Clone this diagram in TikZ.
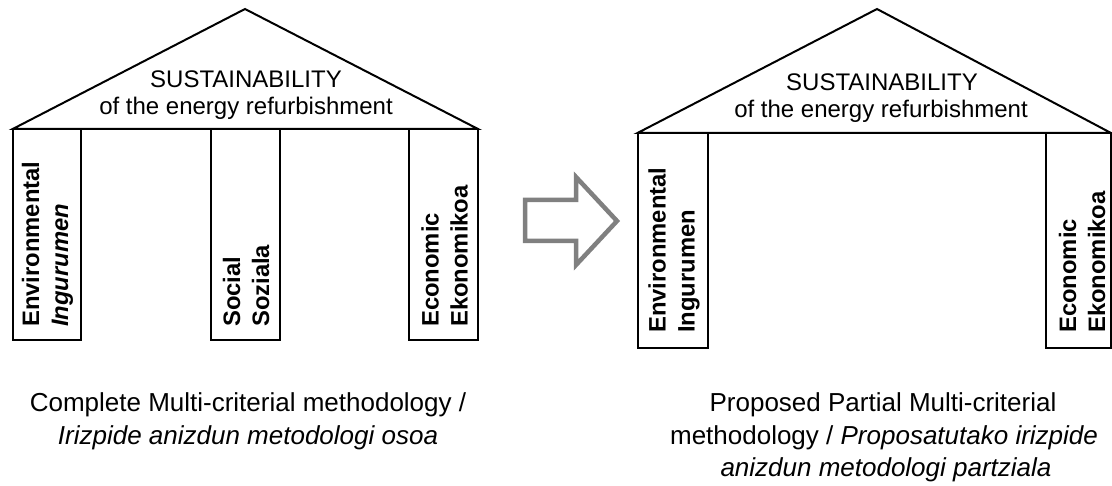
\documentclass[tikz,border=0pt]{standalone}
\usepackage{fontspec}
\setmainfont{Liberation Sans}
\begin{document}
\begin{tikzpicture}[x=1pt,y=-1pt,
  frame/.style={draw=black,line width=2pt,line join=miter},
  roofword/.style={inner sep=0pt,anchor=base,font=\fontsize{24}{27}\selectfont},
  pillarword/.style={inner sep=0pt,rotate=90,anchor=west,align=left,font=\fontsize{23.8}{29}\selectfont\bfseries},
  caption/.style={inner sep=0pt,anchor=base,font=\fontsize{26}{32}\selectfont},
  bigarrow/.style={draw=black!50,line width=4.5pt,line join=miter,fill=white}]
\useasboundingbox (0,0) rectangle (1112,486);
% ---- left house ----
\draw[frame] (12.7,129) -- (245,9) -- (478,129) -- cycle;
\draw[frame] (12.7,129) rectangle (81,340);
\draw[frame] (211,129) rectangle (280,340);
\draw[frame] (409,129) rectangle (478,340);
\node[roofword] (ls1) at (246,88) {SUSTAINABILITY};
\node[roofword] (ls2) at (246,115) {of the energy refurbishment};
\node[pillarword] (lenv) at (47.5,327) {Environmental\\\textit{Ingurumen}};
\node[pillarword] (lsoc) at (246,327) {Social\\Soziala};
\node[pillarword] (leco) at (444.5,327) {Economic\\Ekonomikoa};
% ---- arrow ----
\draw[bigarrow] (525,200) -- (576,200) -- (576,177) -- (617,221) -- (576,265) -- (576,241) -- (525,241) -- cycle;
% ---- right house ----
\draw[frame] (637.5,133) -- (877,9) -- (1111,133) -- cycle;
\draw[frame] (637.5,133) rectangle (708,348);
\draw[frame] (1046,133) rectangle (1111,348);
\node[roofword] (rs1) at (882,91) {SUSTAINABILITY};
\node[roofword] (rs2) at (881,118) {of the energy refurbishment};
\node[pillarword] (renv) at (674,333) {Environmental\\Ingurumen};
\node[pillarword] (reco) at (1082,333) {Economic\\Ekonomikoa};
% ---- captions ----
\node[caption] (lc1) at (248,412) {Complete Multi-criterial methodology /};
\node[caption] (lc2) at (248,444) {\textit{Irizpide anizdun metodologi osoa}};
\node[caption] (rc1) at (883,412) {Proposed Partial Multi-criterial};
\node[caption] (rc2) at (884,444) {methodology / \textit{Proposatutako irizpide}};
\node[caption] (rc3) at (886,476) {\textit{anizdun metodologi partziala}};
\end{tikzpicture}
\end{document}
